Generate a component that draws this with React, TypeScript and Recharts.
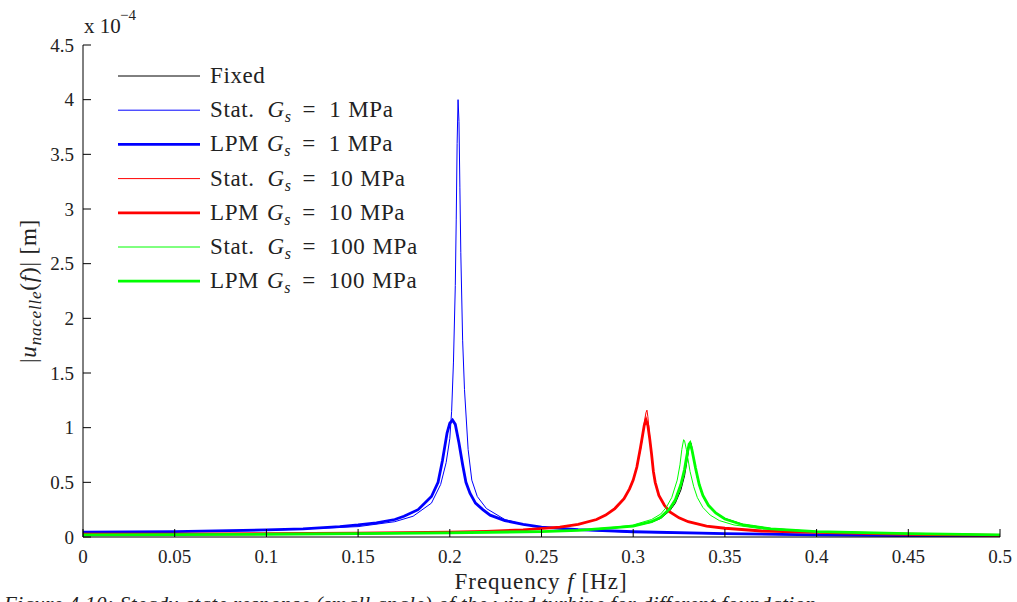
import React from 'react';
import { LineChart, Line, XAxis, YAxis, Legend } from 'recharts';

// frequency axis [Hz] and nacelle amplitude [x 1e-4 m]
const fixedF = [0, 0.05, 0.1, 0.15, 0.2, 0.25, 0.27, 0.29, 0.3, 0.31, 0.315, 0.32, 0.323, 0.326, 0.328, 0.329, 0.33, 0.3305, 0.331, 0.3315, 0.332, 0.333, 0.335, 0.337, 0.339, 0.342, 0.346, 0.35, 0.36, 0.375, 0.4, 0.45, 0.5];
const fixedU = [0.02, 0.022, 0.025, 0.03, 0.037, 0.05, 0.06, 0.083, 0.1, 0.135, 0.17, 0.24, 0.31, 0.43, 0.56, 0.66, 0.77, 0.83, 0.87, 0.86, 0.82, 0.71, 0.54, 0.42, 0.34, 0.27, 0.21, 0.17, 0.115, 0.078, 0.05, 0.03, 0.02];

const stat1F = [0, 0.05, 0.1, 0.15, 0.17, 0.18, 0.19, 0.195, 0.198, 0.2, 0.201, 0.202, 0.203, 0.2035, 0.204, 0.2045, 0.205, 0.2055, 0.206, 0.207, 0.208, 0.21, 0.212, 0.215, 0.22, 0.23, 0.24, 0.25, 0.27, 0.3, 0.35, 0.4, 0.45, 0.5];
const stat1U = [0.045, 0.048, 0.06, 0.095, 0.14, 0.19, 0.31, 0.48, 0.68, 0.9, 1.15, 1.6, 2.3, 2.9, 3.6, 4.0, 3.8, 3.2, 2.6, 1.8, 1.35, 0.8, 0.52, 0.37, 0.26, 0.16, 0.115, 0.09, 0.063, 0.044, 0.028, 0.018, 0.012, 0.008];

const lpm1F = [0, 0.05, 0.1, 0.12, 0.14, 0.15, 0.16, 0.17, 0.175, 0.1827, 0.19, 0.1936, 0.196, 0.1985, 0.2, 0.2015, 0.203, 0.205, 0.207, 0.2088, 0.211, 0.214, 0.218, 0.222, 0.23, 0.24, 0.25, 0.27, 0.3, 0.35, 0.4, 0.45, 0.5];
const lpm1U = [0.045, 0.05, 0.065, 0.075, 0.095, 0.11, 0.13, 0.16, 0.19, 0.25, 0.37, 0.5, 0.7, 0.95, 1.04, 1.07, 1.03, 0.86, 0.66, 0.5, 0.4, 0.31, 0.25, 0.2, 0.15, 0.115, 0.09, 0.068, 0.048, 0.03, 0.02, 0.012, 0.008];

const stat10F = [0, 0.05, 0.1, 0.15, 0.2, 0.22, 0.24, 0.26, 0.27, 0.28, 0.285, 0.29, 0.295, 0.298, 0.3, 0.302, 0.304, 0.305, 0.306, 0.307, 0.3075, 0.308, 0.309, 0.31, 0.311, 0.312, 0.314, 0.317, 0.32, 0.325, 0.33, 0.34, 0.35, 0.37, 0.4, 0.45, 0.5];
const stat10U = [0.025, 0.027, 0.03, 0.035, 0.045, 0.052, 0.065, 0.09, 0.115, 0.16, 0.2, 0.26, 0.35, 0.44, 0.52, 0.64, 0.8, 0.9, 1.05, 1.14, 1.16, 1.1, 0.92, 0.76, 0.6, 0.5, 0.38, 0.29, 0.23, 0.175, 0.14, 0.1, 0.08, 0.055, 0.042, 0.025, 0.015];

const lpm10F = [0, 0.05, 0.1, 0.15, 0.2, 0.22, 0.24, 0.26, 0.27, 0.28, 0.285, 0.29, 0.295, 0.298, 0.3, 0.302, 0.304, 0.305, 0.306, 0.307, 0.308, 0.309, 0.31, 0.311, 0.312, 0.314, 0.317, 0.32, 0.325, 0.33, 0.34, 0.35, 0.37, 0.4, 0.45, 0.5];
const lpm10U = [0.025, 0.027, 0.03, 0.035, 0.045, 0.052, 0.065, 0.09, 0.115, 0.16, 0.2, 0.26, 0.35, 0.44, 0.52, 0.64, 0.82, 0.92, 1.02, 1.07, 1.02, 0.9, 0.76, 0.6, 0.5, 0.38, 0.29, 0.23, 0.175, 0.14, 0.1, 0.08, 0.055, 0.042, 0.025, 0.015];

const stat100F = [0, 0.05, 0.1, 0.15, 0.2, 0.25, 0.27, 0.29, 0.3, 0.31, 0.315, 0.318, 0.321, 0.324, 0.3255, 0.3265, 0.3275, 0.328, 0.329, 0.331, 0.333, 0.335, 0.338, 0.342, 0.347, 0.355, 0.37, 0.4, 0.45, 0.5];
const stat100U = [0.02, 0.022, 0.025, 0.03, 0.038, 0.05, 0.062, 0.09, 0.11, 0.16, 0.21, 0.27, 0.36, 0.52, 0.66, 0.8, 0.89, 0.88, 0.8, 0.6, 0.46, 0.36, 0.27, 0.2, 0.15, 0.11, 0.075, 0.048, 0.03, 0.02];

const lpm100F = [0, 0.05, 0.1, 0.15, 0.2, 0.25, 0.27, 0.29, 0.3, 0.31, 0.315, 0.32, 0.323, 0.326, 0.328, 0.329, 0.33, 0.3305, 0.331, 0.332, 0.334, 0.336, 0.338, 0.341, 0.345, 0.35, 0.36, 0.375, 0.4, 0.45, 0.5];
const lpm100U = [0.02, 0.022, 0.025, 0.03, 0.038, 0.05, 0.06, 0.085, 0.1, 0.14, 0.18, 0.26, 0.34, 0.48, 0.62, 0.72, 0.81, 0.85, 0.86, 0.8, 0.63, 0.48, 0.38, 0.29, 0.22, 0.165, 0.11, 0.075, 0.05, 0.03, 0.02];

const xTicks = [0, 0.05, 0.1, 0.15, 0.2, 0.25, 0.3, 0.35, 0.4, 0.45, 0.5];
const xTickLabels = ['0', '0.05', '0.1', '0.15', '0.2', '0.25', '0.3', '0.35', '0.4', '0.45', '0.5'];
const yTicks = [0, 0.5, 1, 1.5, 2, 2.5, 3, 3.5, 4, 4.5];
const yTickLabels = ['0', '0.5', '1', '1.5', '2', '2.5', '3', '3.5', '4', '4.5'];

const zip = (f: number[], u: number[]) => f.map((v, i) => ({ f: v, u: u[i] }));

const series = [
    { key: 'fixed', prefix: 'Fixed', gs: '', color: '#000000', width: 1, data: zip(fixedF, fixedU) },
    { key: 'stat1', prefix: 'Stat.', gs: '1', color: '#0000ff', width: 1, data: zip(stat1F, stat1U) },
    { key: 'lpm1', prefix: 'LPM', gs: '1', color: '#0000ff', width: 2.8, data: zip(lpm1F, lpm1U) },
    { key: 'stat10', prefix: 'Stat.', gs: '10', color: '#ff0000', width: 1, data: zip(stat10F, stat10U) },
    { key: 'lpm10', prefix: 'LPM', gs: '10', color: '#ff0000', width: 2.8, data: zip(lpm10F, lpm10U) },
    { key: 'stat100', prefix: 'Stat.', gs: '100', color: '#00ff00', width: 1, data: zip(stat100F, stat100U) },
    { key: 'lpm100', prefix: 'LPM', gs: '100', color: '#00ff00', width: 2.8, data: zip(lpm100F, lpm100U) },
];

const FONT = "'Liberation Serif', 'Times New Roman', serif";
const ink = '#222';

const renderLegend = () => (
    <svg width={480} height={310} style={{ display: 'block' }}>
        {series.map((s, i) => {
            const y = 76 + i * 34.2;
            return (
                <g key={s.key}>
                    <line x1={118} x2={200} y1={y} y2={y} stroke={s.color} strokeWidth={s.width} />
                    <text x={210} y={y + 7} fontSize={23} letterSpacing={0.6} fill={ink} style={{ fontFamily: FONT }}>
                        {s.gs === '' ? (
                            s.prefix
                        ) : (
                            <>
                                {s.prefix}
                                <tspan dx={s.prefix === 'LPM' ? 8 : 13} fontStyle="italic">G</tspan>
                                <tspan fontStyle="italic" fontSize={16} dy={5}>s</tspan>
                                <tspan dx={11} dy={-5}>=</tspan>
                                <tspan dx={13}>{s.gs}</tspan>
                                <tspan dx={7}>MPa</tspan>
                            </>
                        )}
                    </text>
                </g>
            );
        })}
    </svg>
);

const renderYLabel = () => (
    <text
        x={36}
        y={291}
        transform="rotate(-90, 36, 291)"
        textAnchor="middle"
        fontSize={23}
        letterSpacing={0.8}
        fill={ink}
        style={{ fontFamily: FONT }}
    >
        |<tspan fontStyle="italic">u</tspan>
        <tspan fontStyle="italic" fontSize={17} dy={5}>nacelle</tspan>
        <tspan dy={-5}>(</tspan>
        <tspan fontStyle="italic">f</tspan>
        <tspan>)| [m]</tspan>
    </text>
);

const renderXLabel = () => (
    <g fill={ink} style={{ fontFamily: FONT }}>
        <text x={541} y={589} textAnchor="middle" fontSize={23} letterSpacing={1}>
            Frequency <tspan fontStyle="italic">f</tspan> [Hz]
        </text>
        <text x={84} y={33} fontSize={21}>x 10</text>
        <text x={120} y={20} fontSize={15}>−4</text>
        <text x={4} y={611} fontSize={21} fontStyle="italic" letterSpacing={0.4}>
            Figure 4.10: Steady-state response (small angle) of the wind turbine for different foundation
        </text>
    </g>
);

const emptyTick = () => <g />;
const tickStyle = { fill: ink, fontSize: 19, style: { fontFamily: FONT } };

export default function App() {
    return (
        <div style={{ width: 1017, height: 602, background: '#fff' }}>
            <style>{'body{margin:0;background:#fff}'}</style>
            <LineChart
                width={1017}
                height={602}
                margin={{ top: 45, right: 17, left: 0, bottom: 0 }}
            >
                <XAxis
                    xAxisId="b"
                    dataKey="f"
                    type="number"
                    domain={[0, 0.5]}
                    ticks={xTicks}
                    tickFormatter={(v: number) => xTickLabels[xTicks.indexOf(v)] ?? String(v)}
                    allowDataOverflow
                    height={65}
                    tickSize={-8}
                    tickMargin={21}
                    stroke="#000"
                    tick={tickStyle}
                    label={renderXLabel}
                />
                <XAxis
                    xAxisId="t"
                    orientation="top"
                    type="number"
                    domain={[0, 0.5]}
                    ticks={xTicks}
                    height={0}
                    tickSize={-8}
                    stroke="#000"
                    tick={emptyTick}
                />
                <YAxis
                    yAxisId="l"
                    type="number"
                    domain={[0, 4.5]}
                    ticks={yTicks}
                    tickFormatter={(v: number) => yTickLabels[yTicks.indexOf(v)] ?? String(v)}
                    allowDataOverflow
                    width={83}
                    tickSize={-8}
                    tickMargin={17}
                    stroke="#000"
                    tick={tickStyle}
                    label={renderYLabel}
                />
                <YAxis
                    yAxisId="r"
                    orientation="right"
                    type="number"
                    domain={[0, 4.5]}
                    ticks={yTicks}
                    width={0}
                    tickSize={-8}
                    stroke="#000"
                    tick={emptyTick}
                />
                <Legend
                    verticalAlign="middle"
                    align="center"
                    layout="horizontal"
                    content={renderLegend}
                    wrapperStyle={{ left: 0, top: 0, width: 480, height: 310 }}
                />
                {series.map((s) => (
                    <Line
                        key={s.key}
                        xAxisId="b"
                        yAxisId="l"
                        data={s.data}
                        dataKey="u"
                        name={s.key}
                        type="linear"
                        stroke={s.color}
                        strokeWidth={s.width}
                        dot={false}
                        activeDot={false}
                        isAnimationActive={false}
                    />
                ))}
            </LineChart>
        </div>
    );
}
